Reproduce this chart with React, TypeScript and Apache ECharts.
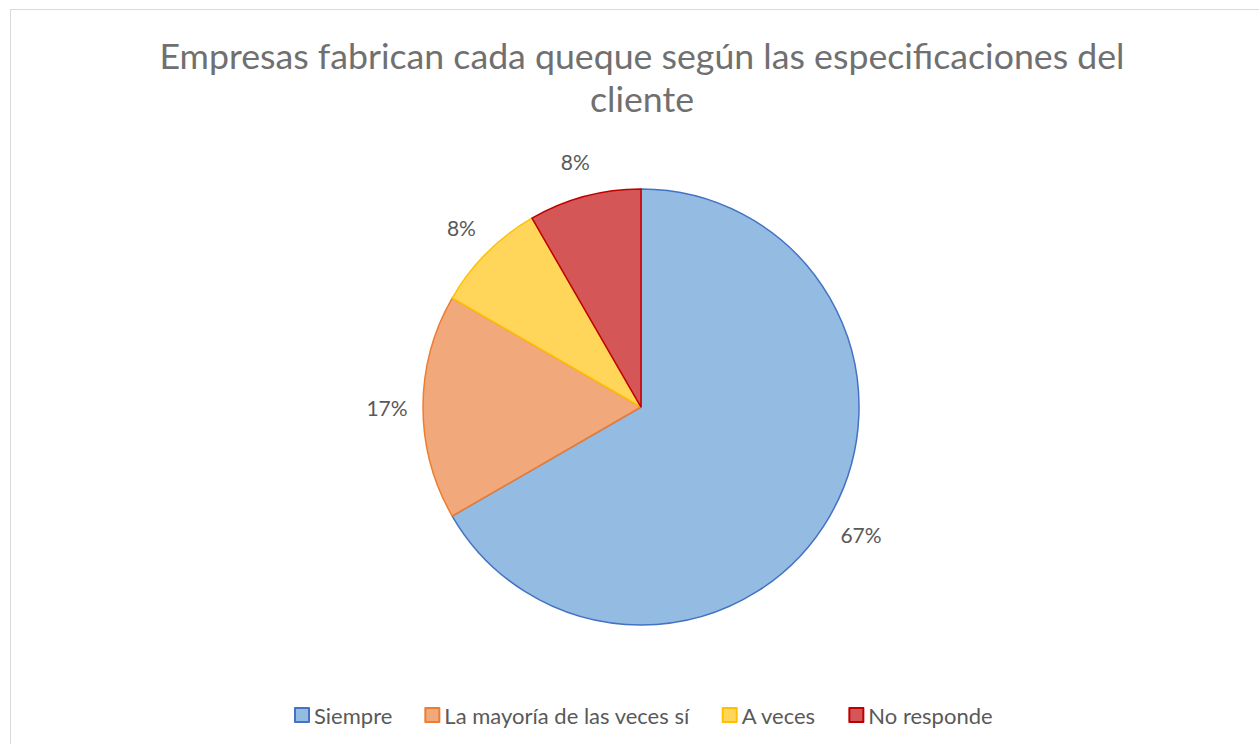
import React, { useEffect, useRef } from "react";
import * as echarts from "echarts";

const titleLines = ["Empresas fabrican cada queque según las especificaciones del", "cliente"];
const categories = ["Siempre", "La mayoría de las veces sí", "A veces", "No responde"];
const values = [8, 2, 1, 1];
const fillColors = ["#94bce3", "#f1a87a", "#ffd659", "#d55656"];
const borderColors = ["#4472c4", "#ed7d31", "#ffc000", "#c00000"];

const FONT = "Lato, 'Noto Sans', sans-serif";
const TEXT = "#595959";

export default function App() {
  const ref = useRef<HTMLDivElement>(null);
  useEffect(() => {
    if (!ref.current) return;
    const chart = echarts.init(ref.current, undefined, { renderer: "svg" });
    const pieData = categories.map((name, i) => ({
      name,
      value: values[i],
      itemStyle: { color: fillColors[i], borderColor: borderColors[i], borderWidth: 1.5 },
    }));
    const labelData = categories.map((name, i) => ({
      name,
      value: values[i],
      itemStyle: { color: "rgba(0,0,0,0)", borderWidth: 0 },
    }));
    chart.setOption({
      animation: false,
      backgroundColor: "#ffffff",
      graphic: [
        {
          type: "rect",
          shape: { x: 10.5, y: 9.5, width: 1400, height: 900 },
          style: { fill: "none", stroke: "#d9d9d9", lineWidth: 1 },
          silent: true,
        },
        ...titleLines.map((t, i) => ({
          type: "text",
          x: 642,
          y: 55 + i * 43,
          silent: true,
          style: {
            text: t,
            fontFamily: FONT,
            fontSize: 35.7,
            fill: "#707070",
            align: "center",
            verticalAlign: "middle",
          },
        })),
      ],
      legend: {
        data: categories,
        top: 699,
        left: 289,
        icon: "rect",
        itemWidth: 14,
        itemHeight: 14,
        itemGap: 32,
        textStyle: { fontFamily: FONT, fontSize: 22, color: TEXT },
      },
      series: [
        {
          type: "pie",
          center: [641, 407],
          radius: 218,
          startAngle: 90,
          clockwise: true,
          label: { show: false },
          labelLine: { show: false },
          emphasis: { disabled: true },
          data: pieData,
        },
        {
          type: "pie",
          center: [641, 407],
          radius: [218, 284],
          startAngle: 90,
          clockwise: true,
          silent: true,
          legendHoverLink: false,
          label: {
            show: true,
            position: "inside",
            fontFamily: FONT,
            fontSize: 21,
            color: TEXT,
            formatter: (p: any) => Math.round(p.percent) + "%",
          },
          labelLine: { show: false },
          emphasis: { disabled: true },
          data: labelData,
        },
      ],
    });
    return () => chart.dispose();
  }, []);
  return (
    <div
      ref={ref}
      style={{ position: "fixed", left: 0, top: 0, width: 1259, height: 744 }}
    />
  );
}
